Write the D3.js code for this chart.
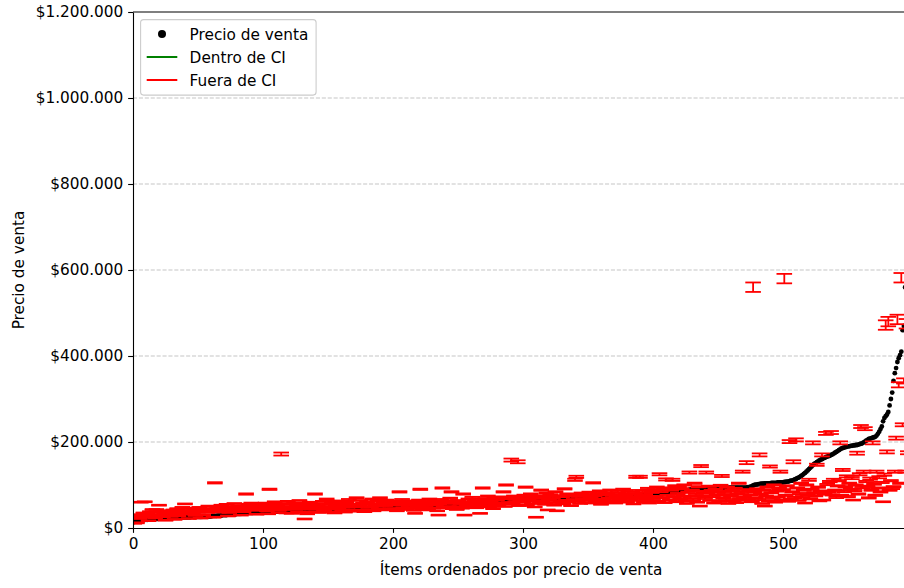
<!DOCTYPE html>
<html>
<head>
<meta charset="utf-8">
<script src="https://cdn.jsdelivr.net/npm/d3@7"></script>
<style>
  body { margin: 0; background: #fff; }
  svg { display: block; }
</style>
</head>
<body>
<svg id="chart" width="904" height="588"></svg>
<script>
// All money values below are in thousands of $.
const UNIT = 1000;

const yTicks = [0, 200000, 400000, 600000, 800000, 1000000, 1200000];
const xTicks = [0, 100, 200, 300, 400, 500];

// Sale price of each item, items sorted by price (index = item position).
const salePrice = [
  13,15,16,16,17,17,18,18,18,19, 19,19,20,20,20,20,21,21,21,21,
  22,22,22,22,22,23,23,23,23,23, 23,24,24,24,24,24,24,25,25,25,
  25,25,25,25,25,26,26,26,26,26, 26,26,26,26,27,27,27,27,27,27,
  27,28,28,28,28,29,29,29,29,30, 30,30,30,31,31,31,31,32,32,32,
  33,33,33,33,34,34,34,34,35,35, 35,35,35,36,36,36,36,36,37,37,
  37,37,37,37,38,38,38,38,38,38, 38,39,39,39,39,39,39,39,39,40,
  40,40,40,40,40,40,40,40,40,40, 40,41,41,41,41,41,41,41,41,41,
  41,41,42,42,42,42,42,42,42,43, 43,43,43,43,43,43,44,44,44,44,
  44,44,44,45,45,45,45,45,45,45, 45,46,46,46,46,46,46,46,46,46,
  46,47,47,47,47,47,47,48,48,48, 48,48,48,48,48,49,49,49,49,49,
  49,49,49,49,50,50,50,50,50,50, 50,50,50,50,50,50,50,51,51,51,
  51,51,51,51,51,51,51,51,51,51, 51,52,52,52,52,52,52,52,53,53,
  53,53,53,53,54,54,54,54,54,54, 55,55,55,55,55,55,56,56,56,56,
  56,57,57,57,57,58,58,58,58,59, 59,59,60,60,60,60,61,61,61,62,
  62,62,62,63,63,63,63,64,64,64, 64,64,65,65,65,65,65,65,66,66,
  66,66,66,66,66,67,67,67,67,67, 67,67,68,68,68,68,68,68,68,68,
  68,69,69,69,69,69,69,69,69,69, 69,69,70,70,70,70,70,70,70,70,
  70,70,71,71,71,71,71,71,71,71, 71,72,72,72,72,72,72,72,72,72,
  72,73,73,73,73,73,73,73,73,73, 73,74,74,74,74,74,74,74,74,74,
  75,75,75,75,75,75,76,76,76,76, 76,76,77,77,77,77,78,78,78,78,
  79,79,79,80,80,80,81,81,82,82, 82,83,83,83,84,84,84,84,85,85,
  85,86,86,86,87,87,88,88,89,89, 90,90,90,91,91,91,91,91,92,92,
  92,92,92,92,92,92,93,93,93,93, 93,93,93,93,93,93,93,93,93,94,
  94,94,94,94,94,94,94,94,94,94, 94,94,94,95,95,96,97,99,100,101,
  101,102,102,103,103,103,104,104,104,104, 104,105,105,105,105,105,106,106,106,106,
  106,107,107,108,108,109,110,110,111,113, 114,116,117,119,121,123,126,128,131,134,
  137,140,143,146,149,151,153,155,157,159, 160,162,163,165,166,167,168,170,171,173,
  175,177,179,181,183,185,186,187,188,189, 190,190,191,191,192,192,193,193,194,195,
  196,197,199,201,203,205,207,208,209,210, 211,212,215,219,224,230,236,248,256,260,
  264,270,285,300,315,342,360,372,386,395, 402,410,460,470,560,640,750
];

// Centre of the predicted confidence interval for each item.
const ciCenter = [
  24,11,28,12,31,22,60,26,35,61, 29,33,17,38,27,43,31,24,43,36,
  53,30,40,26,35,18,29,33,39,27, 34,42,20,37,45,28,39,33,48,36,
  56,35,41,22,38,46,33,40,29,44, 37,48,23,42,30,39,45,36,51,41,
  38,45,25,105,42,49,37,44,53,40, 47,39,55,28,36,50,45,41,57,48,
  44,52,40,30,46,38,51,79,43,55, 49,58,45,41,53,32,47,56,44,50,
  52,45,58,40,33,90,49,55,43,61, 47,53,36,42,172,57,44,50,35,62,
  46,55,34,49,58,43,51,37,64,48, 53,45,21,56,33,50,60,38,47,54,
  79,44,52,36,57,48,62,40,50,67, 45,55,38,59,49,35,53,63,46,51,
  58,42,54,37,61,48,66,41,52,39, 56,49,70,41,53,64,42,58,38,50,
  60,43,55,49,67,40,57,51,63,45, 70,53,44,59,52,65,42,56,45,61,
  54,45,62,40,57,84,53,66,47,59, 43,63,52,46,60,55,41,34,58,49,
  65,90,53,44,61,48,57,42,67,47, 59,46,63,54,40,30,56,66,93,49,
  62,47,58,50,69,84,45,60,57,43, 64,50,57,46,79,30,61,53,67,48,
  58,71,51,63,47,66,55,34,60,93, 52,68,57,74,49,63,58,45,70,55,
  66,53,59,72,57,84,50,100,68,59, 69,158,56,74,61,67,154,52,63,71,
  60,76,95,54,68,63,79,57,72,49, 25,64,74,58,88,62,70,55,81,42,
  65,77,59,71,53,84,40,64,75,61, 73,56,91,64,79,60,74,52,77,66,
  112,119,62,74,57,81,68,76,59,75, 64,83,70,58,105,75,61,79,67,86,
  55,78,66,82,60,77,69,88,63,76, 80,58,71,85,65,76,62,90,69,78,
  60,83,72,66,87,56,79,119,70,64, 119,74,85,61,80,68,92,58,73,83,
  66,88,73,95,62,125,85,70,90,59, 113,76,93,65,88,112,72,98,61,80,
  95,68,91,74,100,63,57,83,129,71, 88,66,104,78,60,96,51,144,75,85,
  69,129,82,97,64,87,73,58,90,77, 84,62,99,121,70,80,66,95,57,86,
  74,88,63,92,59,79,104,68,83,131, 72,87,152,65,89,77,61,560,84,70,
  91,66,170,79,57,88,51,74,95,63, 143,82,69,100,60,86,72,92,131,65,
  89,580,76,98,62,201,67,84,154,71, 205,93,64,80,104,73,88,58,100,77,
  112,68,90,198,82,75,147,95,63,86, 170,65,79,220,101,84,108,222,77,112,
  88,71,98,110,198,76,135,85,96,120, 73,104,90,116,65,87,100,174,79,125,
  236,94,131,231,108,97,70,115,88,198, 102,76,131,93,118,84,106,61,124,472,
  177,480,88,110,92,96,131,209,485,333, 104,582,240,342,131,475,175
];

// Half width of each confidence interval.
const ciHalf = [
  1,1,1,1,1,1,1,1,1,1, 1,1,1,1,1,1,1,1,1,1,
  1,1,1,1,1,1,1,1,1,1, 1,1,1,1,1,1,1,1,1,1,
  1,1,1,1,1,1,1,1,1,1, 1,1,1,1,1,1,1,1,1,1,
  1,1,1,1.5,1,1,1,1,1,1, 1,1,1,1,1,1,1,1,1,1,
  1,1,1,1,1,1,1,1.5,1,1, 1,1,1,1,1,1,1,1,1,1,
  1,1,1,1,1,1.5,1,1,1,1, 1,1,1,1,3.5,1,1,1,1,1,
  1,1,1,1,1,1,1,1,1,1, 1,1,1,1,1,1,1,1,1,1,
  1.5,1,1,1,1,1,1,1,1,1.5, 1,1,1,1,1,1,1,1,1,1,
  1,1,1,1,1,1,1.5,1,1,1, 1,1,1.5,1,1,1,1,1,1,1,
  1,1,1,1,1.5,1,1,1,1,1, 1.5,1,1,1,1,1,1,1,1,1,
  1,1,1,1,1,1.5,1,1.5,1,1, 1,1,1,1,1,1,1,1,1,1,
  1,1.5,1,1,1,1,1,1,1.5,1, 1,1,1,1,1,1,1,1.5,1.5,1,
  1,1,1,1,1.5,1.5,1,1,1,1, 1,1,1,1,1.5,1,1,1,1.5,1,
  1,1.5,1,1,1,1.5,1,1,1,1.5, 1,1.5,1,1.5,1,1,1,1,1.5,1,
  1.5,1,1,1.5,1,1.5,1,1.5,1.5,1, 1.5,3.5,1,1.5,1,1.5,3.5,1,1,1.5,
  1,1.5,1.5,1,1.5,1,1.5,1,1.5,1, 1,1,1.5,1,1.5,1,1.5,1,1.5,1,
  1,1.5,1,1.5,1,1.5,1,1,1.5,1, 1.5,1,1.5,1,1.5,1,1.5,1,1.5,1.5,
  2.5,2.5,1,1.5,1,1.5,1.5,1.5,1,1.5, 1,1.5,1.5,1,1.5,1.5,1,1.5,1.5,1.5,
  1,1.5,1.5,1.5,1,1.5,1.5,1.5,1,1.5, 1.5,1,1.5,1.5,1,1.5,1,1.5,1.5,1.5,
  1,1.5,1.5,1.5,1.5,1,1.5,2.5,1.5,1, 2.5,1.5,1.5,1,1.5,1.5,1.5,1,1.5,1.5,
  1.5,1.5,1.5,1.5,1,2.5,1.5,1.5,1.5,1, 2.5,1.5,1.5,1,1.5,2.5,1.5,1.5,1,1.5,
  1.5,1.5,1.5,1.5,1.5,1,1,1.5,2.5,1.5, 1.5,1.5,1.5,1.5,1,1.5,1,2.5,1.5,1.5,
  1.5,2.5,1.5,1.5,1,1.5,1.5,1,1.5,1.5, 1.5,1,1.5,2.5,1.5,1.5,1.5,1.5,1,1.5,
  1.5,1.5,1,1.5,1,1.5,1.5,1.5,1.5,2.5, 1.5,1.5,3.5,1,1.5,1.5,1,11,1.5,1.5,
  1.5,1.5,3.5,1.5,1,1.5,1,1.5,1.5,1, 2.5,1.5,1.5,1.5,1,1.5,1.5,1.5,2.5,1,
  1.5,11,1.5,1.5,1,3.5,1.5,1.5,3.5,1.5, 3.5,1.5,1,1.5,1.5,1.5,1.5,1,1.5,1.5,
  2.5,1.5,1.5,3.5,1.5,1.5,2.5,1.5,1,1.5, 3.5,1,1.5,3.5,1.5,1.5,1.5,3.5,1.5,2.5,
  1.5,1.5,1.5,1.5,3.5,1.5,2.5,1.5,1.5,2.5, 1.5,1.5,1.5,2.5,1,1.5,1.5,3.5,1.5,2.5,
  3.5,1.5,2.5,3.5,1.5,1.5,1.5,2.5,1.5,3.5, 1.5,1.5,2.5,1.5,2.5,1.5,1.5,1,2.5,11,
  3.5,11,1.5,1.5,1.5,1.5,2.5,3.5,11,6, 1.5,11,3.5,6,2.5,11,3.5
];

const legendLabels = ["Precio de venta", "Dentro de CI", "Fuera de CI"];
const xTitle = "Ítems ordenados por precio de venta";
const yTitle = "Precio de venta";

const colors = { price: "#000000", inside: "#008000", outside: "#ff0000" };
const FONT_FAMILY = "'DejaVu Sans', sans-serif";
const FONT = "15.3px";

const svg = d3.select("#chart");
const plot = { left: 133, top: 12, bottom: 528, right: 909.1 };

const x = d3.scaleLinear().domain([0, salePrice.length]).range([plot.left, plot.right]);
const y = d3.scaleLinear().domain([0, 1200000]).range([plot.bottom, plot.top]);
const money = v => "$" + d3.format(",")(v).replace(/,/g, ".");

const items = salePrice.map((p, i) => {
  const lo = (ciCenter[i] - ciHalf[i]) * UNIT;
  const hi = (ciCenter[i] + ciHalf[i]) * UNIT;
  const price = p * UNIT;
  return { i, price, lo, hi, inside: lo <= price && price <= hi };
});

svg.append("clipPath").attr("id", "plotClip")
  .append("rect")
  .attr("x", plot.left).attr("y", plot.top)
  .attr("width", plot.right - plot.left).attr("height", plot.bottom - plot.top);

// horizontal dashed grid
svg.append("g")
  .selectAll("line")
  .data(yTicks.filter(t => t > 0 && t < 1200000))
  .join("line")
  .attr("x1", plot.left).attr("x2", plot.right)
  .attr("y1", d => y(d)).attr("y2", d => y(d))
  .attr("stroke", "#c6c6c6")
  .attr("stroke-width", 1.1)
  .attr("stroke-dasharray", "4.1,1.8");

const layer = svg.append("g").attr("clip-path", "url(#plotClip)");

// sale prices
layer.append("g")
  .selectAll("circle")
  .data(items)
  .join("circle")
  .attr("cx", d => x(d.i))
  .attr("cy", d => y(d.price))
  .attr("r", 2.4)
  .attr("fill", colors.price);

// confidence intervals with caps
const CAP = 7.8;
const bars = layer.append("g")
  .attr("stroke-width", 1.8)
  .selectAll("g")
  .data(items)
  .join("g")
  .attr("stroke", d => d.inside ? colors.inside : colors.outside);

bars.append("line")
  .attr("x1", d => x(d.i)).attr("x2", d => x(d.i))
  .attr("y1", d => y(d.lo)).attr("y2", d => y(d.hi));
bars.append("line")
  .attr("x1", d => x(d.i) - CAP).attr("x2", d => x(d.i) + CAP)
  .attr("y1", d => y(d.lo)).attr("y2", d => y(d.lo));
bars.append("line")
  .attr("x1", d => x(d.i) - CAP).attr("x2", d => x(d.i) + CAP)
  .attr("y1", d => y(d.hi)).attr("y2", d => y(d.hi));

// axes
const TICK = 4.86;
const gx = svg.append("g")
  .attr("transform", `translate(0,${plot.bottom})`)
  .call(d3.axisBottom(x).tickValues(xTicks).tickFormat(d3.format("d"))
        .tickSize(TICK).tickPadding(TICK).tickSizeOuter(0));
const gy = svg.append("g")
  .attr("transform", `translate(${plot.left},0)`)
  .call(d3.axisLeft(y).tickValues(yTicks).tickFormat(money)
        .tickSize(TICK).tickPadding(TICK).tickSizeOuter(0));

[gx, gy].forEach(g => {
  g.attr("font-size", null).attr("font-family", null);
  g.select(".domain").attr("stroke", "#000").attr("stroke-width", 1.1);
  g.selectAll(".tick line").attr("stroke", "#000").attr("stroke-width", 1.1);
  g.selectAll(".tick text")
    .style("font-family", FONT_FAMILY)
    .style("font-size", FONT)
    .attr("fill", "#000");
});
gx.selectAll(".tick text").attr("dy", "0.76em");

// top spine
svg.append("line")
  .attr("x1", plot.left).attr("x2", plot.right)
  .attr("y1", plot.top).attr("y2", plot.top)
  .attr("stroke", "#000").attr("stroke-width", 1.1);

// axis titles
svg.append("text")
  .attr("x", (plot.left + plot.right) / 2)
  .attr("y", 575)
  .attr("text-anchor", "middle")
  .style("font-family", FONT_FAMILY)
  .style("font-size", FONT)
  .text(xTitle);

svg.append("text")
  .attr("transform", `translate(24,${(plot.top + plot.bottom) / 2}) rotate(-90)`)
  .attr("text-anchor", "middle")
  .style("font-family", FONT_FAMILY)
  .style("font-size", FONT)
  .text(yTitle);

// legend
const lg = svg.append("g").attr("transform", "translate(140.6,19.6)");
lg.append("rect")
  .attr("width", 175.5).attr("height", 75.5)
  .attr("rx", 3).attr("ry", 3)
  .attr("fill", "#fff").attr("fill-opacity", 0.8)
  .attr("stroke", "#cccccc").attr("stroke-width", 1.1);

const rowY = [14.4, 37.4, 60.4];
lg.append("circle").attr("cx", 21.4).attr("cy", rowY[0]).attr("r", 4).attr("fill", colors.price);
lg.append("line").attr("x1", 6.1).attr("x2", 36.7).attr("y1", rowY[1]).attr("y2", rowY[1])
  .attr("stroke", colors.inside).attr("stroke-width", 2);
lg.append("line").attr("x1", 6.1).attr("x2", 36.7).attr("y1", rowY[2]).attr("y2", rowY[2])
  .attr("stroke", colors.outside).attr("stroke-width", 2);
lg.selectAll("text.lab")
  .data(legendLabels)
  .join("text")
  .attr("class", "lab")
  .attr("x", 49)
  .attr("y", (d, i) => rowY[i])
  .attr("dy", "0.36em")
  .style("font-family", FONT_FAMILY)
  .style("font-size", FONT)
  .text(d => d);
</script>
</body>
</html>
